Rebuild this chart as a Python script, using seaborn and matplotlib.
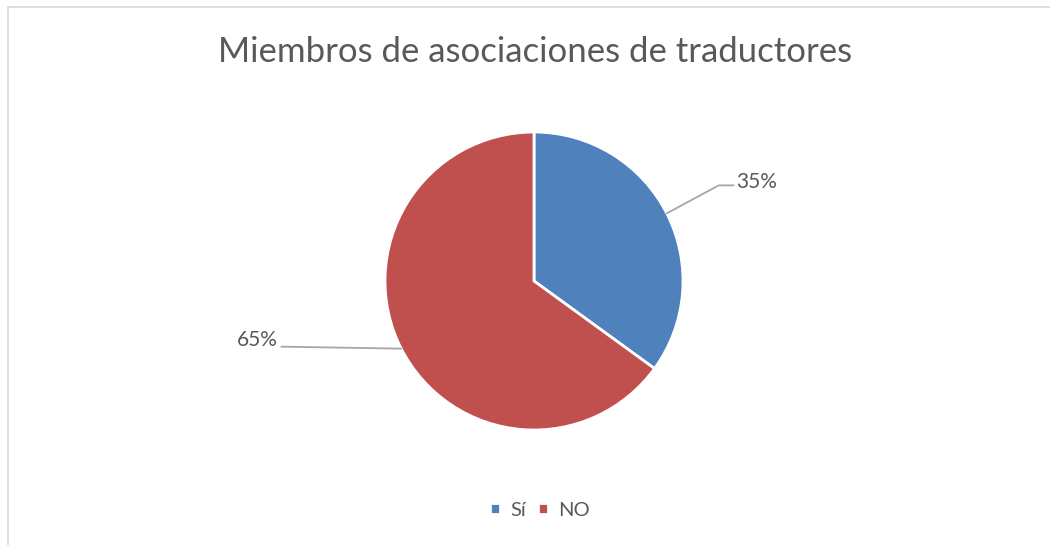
import numpy as np
import matplotlib
matplotlib.use("Agg")
import matplotlib.pyplot as plt
from matplotlib.lines import Line2D
import seaborn as sns

categories = ["Sí", "NO"]
values = [35, 65]
labels = ["35%", "65%"]
colors = ["#4F81BD", "#C0504D"]
title = "Miembros de asociaciones de traductores"

sns.set_theme(style="white")
plt.rcParams["font.family"] = ["Lato", "DejaVu Sans"]

W, H = 1050, 545
fig = plt.figure(figsize=(W / 100, H / 100), dpi=100)
ax = fig.add_axes([0, 0, 1, 1])
ax.set_xlim(0, W)
ax.set_ylim(0, H)
ax.set_aspect("equal")
ax.axis("off")

cx, cy, r = 534, H - 281, 149
wedges, _ = ax.pie(values, colors=colors, startangle=90, counterclock=False,
                   center=(cx, cy), radius=r, frame=True,
                   wedgeprops=dict(edgecolor="white", linewidth=2))
ax.set_xlim(0, W)
ax.set_ylim(0, H)
ax.axis("off")

txt_color = "#595959"
line_color = "#A6A6A6"
for w, lab in zip(wedges, labels):
    ang = np.deg2rad((w.theta1 + w.theta2) / 2)
    px, py = cx + r * np.cos(ang), cy + r * np.sin(ang)
    if np.cos(ang) > 0:
        kx, ky = px + 52, py + 28
        ex = kx + 15
        ax.plot([px, kx, ex], [py, ky, ky], color=line_color, lw=1.3)
        ax.text(ex + 2, ky + 3, lab, ha="left", va="center", fontsize=15, color=txt_color)
    else:
        kx, ky = px - 120, py + 2
        ax.plot([px, kx], [py, ky], color=line_color, lw=1.3)
        ax.text(kx - 3, ky + 7, lab, ha="right", va="center", fontsize=15, color=txt_color)

fig.text(535 / W, 1 - 52 / H, title, ha="center", va="center", fontsize=25,
         color=txt_color)

leg = ax.legend(wedges, categories, loc="center", bbox_to_anchor=(540 / W, 1 - 510 / H),
                bbox_transform=fig.transFigure, ncol=2, frameon=False, fontsize=14.5,
                handlelength=0.5, handleheight=0.5, handletextpad=0.5, columnspacing=0.6,
                labelcolor=txt_color)

fig.add_artist(Line2D([8 / W, 1], [1 - 7 / H, 1 - 7 / H], transform=fig.transFigure,
                      color="#D9D9D9", lw=1.2))
fig.add_artist(Line2D([8 / W, 8 / W], [0, 1 - 7 / H], transform=fig.transFigure,
                      color="#D9D9D9", lw=1.2))

fig.savefig("out.png", dpi=100, facecolor="white")
